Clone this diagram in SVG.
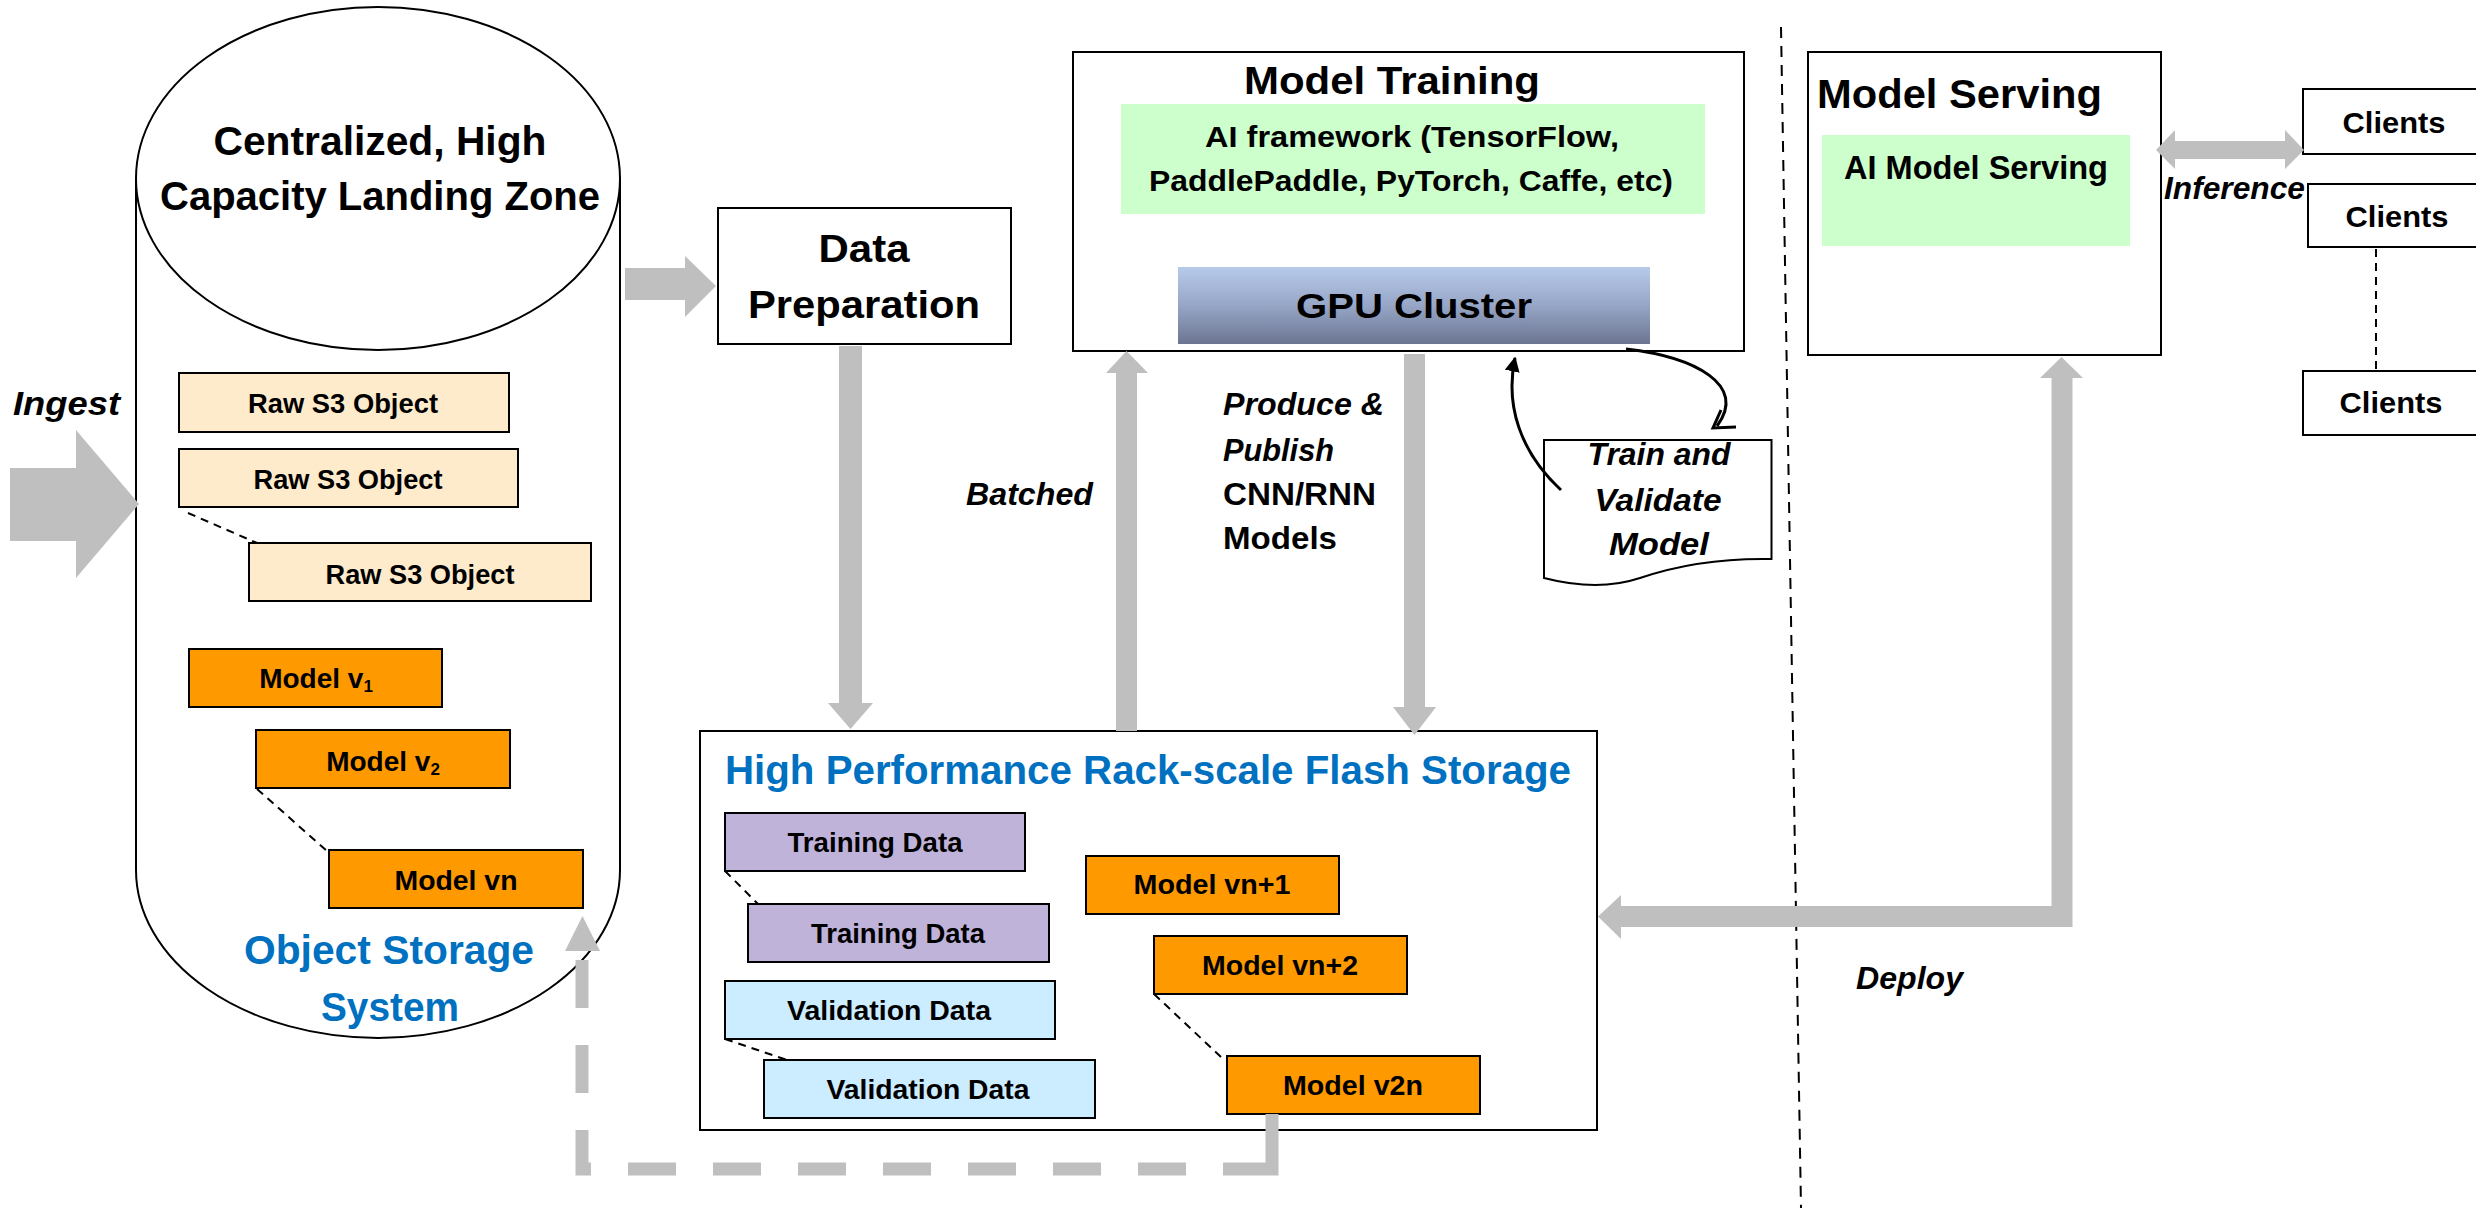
<svg xmlns="http://www.w3.org/2000/svg" width="2476" height="1208" viewBox="0 0 2476 1208">
  <style>
    .t { font-family: "Liberation Sans", Arial, sans-serif; font-weight: bold; fill: #000; }
    .c { text-anchor: middle; }
    .i { font-style: italic; }
    .blue { fill: #0070C0; }
    .box { stroke: #000; stroke-width: 2; }
    .raw { fill: #FDEBCB; }
    .org { fill: #FF9900; }
    .lav { fill: #BFB3D9; }
    .lbl { fill: #CCECFF; }
    .grn { fill: #CCFFCC; }
    .wht { fill: #FFFFFF; }
    .gray { fill: #BFBFBF; }
    .gline { fill: none; stroke: #BFBFBF; stroke-linecap: butt; stroke-linejoin: miter; }
    .dash { fill: none; stroke: #000; stroke-width: 2; stroke-dasharray: 8 6; }
    .sep { fill: none; stroke: #000; stroke-width: 2; stroke-dasharray: 11 8; }
    .curve { fill: none; stroke: #000; stroke-width: 3; }
  </style>
  <defs>
    <linearGradient id="gpuGrad" x1="0" y1="0" x2="0" y2="1">
      <stop offset="0" stop-color="#B7CAEA"/>
      <stop offset="0.5" stop-color="#97A6C6"/>
      <stop offset="1" stop-color="#6B7592"/>
    </linearGradient>
    <marker id="tri" viewBox="0 0 10 10" refX="9" refY="5" markerWidth="5" markerHeight="5" orient="auto" markerUnits="strokeWidth">
      <path d="M0,0 L10,5 L0,10 Z" fill="#000"/>
    </marker>
  </defs>

  <rect x="0" y="0" width="2476" height="1208" fill="#FFFFFF"/>

  <!-- Separator between training and serving -->
  <line class="sep" x1="1781" y1="27" x2="1801" y2="1208"/>

  <!-- Object storage cylinder -->
  <g id="object-storage">
    <path class="box wht" d="M136,178 V870 A242,168 0 0 0 620,870 V178 Z"/>
    <ellipse class="box wht" cx="378" cy="178.5" rx="242" ry="171.5"/>
    <text class="t c" x="380" y="155" font-size="41" textLength="333" lengthAdjust="spacingAndGlyphs">Centralized, High</text>
    <text class="t c" x="380" y="210" font-size="41" textLength="440" lengthAdjust="spacingAndGlyphs">Capacity Landing Zone</text>
    <text class="t c blue" x="389" y="964" font-size="41" textLength="290" lengthAdjust="spacingAndGlyphs">Object Storage</text>
    <text class="t c blue" x="390" y="1021" font-size="41" textLength="138" lengthAdjust="spacingAndGlyphs">System</text>
  </g>

  <g id="raw-s3-1">
    <rect class="box raw" x="179" y="373" width="330" height="59"/>
    <text class="t c" x="343" y="413" font-size="27" textLength="190" lengthAdjust="spacingAndGlyphs">Raw S3 Object</text>
  </g>
  <g id="raw-s3-2">
    <rect class="box raw" x="179" y="449" width="339" height="58"/>
    <text class="t c" x="348" y="489" font-size="27" textLength="189" lengthAdjust="spacingAndGlyphs">Raw S3 Object</text>
  </g>
  <g id="raw-s3-3">
    <rect class="box raw" x="249" y="543" width="342" height="58"/>
    <text class="t c" x="420" y="584" font-size="27" textLength="189" lengthAdjust="spacingAndGlyphs">Raw S3 Object</text>
  </g>

  <g id="model-v1">
    <rect class="box org" x="189" y="649" width="253" height="58"/>
    <text class="t c" x="316" y="688" font-size="28">Model v<tspan font-size="17" dy="4">1</tspan></text>
  </g>
  <g id="model-v2">
    <rect class="box org" x="256" y="730" width="254" height="58"/>
    <text class="t c" x="383" y="771" font-size="28">Model v<tspan font-size="17" dy="4">2</tspan></text>
  </g>
  <g id="model-vn">
    <rect class="box org" x="329" y="850" width="254" height="58"/>
    <text class="t c" x="456" y="890" font-size="28" textLength="123" lengthAdjust="spacingAndGlyphs">Model vn</text>
  </g>

  <!-- Data preparation -->
  <g id="data-preparation">
    <rect class="box wht" x="718" y="208" width="293" height="136"/>
    <text class="t c" x="864" y="262" font-size="39" textLength="91" lengthAdjust="spacingAndGlyphs">Data</text>
    <text class="t c" x="864" y="318" font-size="39" textLength="232" lengthAdjust="spacingAndGlyphs">Preparation</text>
  </g>

  <!-- Model training -->
  <g id="model-training">
    <rect class="box wht" x="1073" y="52" width="671" height="299"/>
    <text class="t c" x="1392" y="94" font-size="39" textLength="296" lengthAdjust="spacingAndGlyphs">Model Training</text>
    <rect class="grn" x="1121" y="104" width="584" height="110"/>
    <text class="t c" x="1412" y="147" font-size="29" textLength="414" lengthAdjust="spacingAndGlyphs">AI framework (TensorFlow,</text>
    <text class="t c" x="1411" y="191" font-size="29" textLength="524" lengthAdjust="spacingAndGlyphs">PaddlePaddle, PyTorch, Caffe, etc)</text>
  </g>
  <g id="gpu-cluster">
    <rect x="1178" y="267" width="472" height="77" fill="url(#gpuGrad)"/>
    <text class="t c" x="1414" y="318" font-size="35" textLength="236" lengthAdjust="spacingAndGlyphs">GPU Cluster</text>
  </g>

  <!-- Train and validate document -->
  <g id="train-validate">
    <path class="wht" stroke="#000" stroke-width="2" d="M1544,440 H1771.5 V559 C1720,558 1675,566 1640,578 C1610,588 1575,586 1544,578 Z"/>
    <text class="t c i" x="1659" y="465" font-size="31" textLength="143" lengthAdjust="spacingAndGlyphs">Train and</text>
    <text class="t c i" x="1658" y="511" font-size="31" textLength="127" lengthAdjust="spacingAndGlyphs">Validate</text>
    <text class="t c i" x="1659" y="555" font-size="31" textLength="100" lengthAdjust="spacingAndGlyphs">Model</text>
  </g>

  <!-- Flash storage -->
  <g id="flash-storage">
    <rect class="box wht" x="700" y="731" width="897" height="399"/>
    <text class="t blue" x="725" y="784" font-size="41" textLength="846" lengthAdjust="spacingAndGlyphs">High Performance Rack-scale Flash Storage</text>
  </g>
  <g id="training-data-1">
    <rect class="box lav" x="725" y="813" width="300" height="58"/>
    <text class="t c" x="875" y="852" font-size="27" textLength="175" lengthAdjust="spacingAndGlyphs">Training Data</text>
  </g>
  <g id="training-data-2">
    <rect class="box lav" x="748" y="904" width="301" height="58"/>
    <text class="t c" x="898" y="943" font-size="27" textLength="174" lengthAdjust="spacingAndGlyphs">Training Data</text>
  </g>
  <g id="validation-data-1">
    <rect class="box lbl" x="725" y="981" width="330" height="58"/>
    <text class="t c" x="889" y="1020" font-size="27" textLength="204" lengthAdjust="spacingAndGlyphs">Validation Data</text>
  </g>
  <g id="validation-data-2">
    <rect class="box lbl" x="764" y="1060" width="331" height="58"/>
    <text class="t c" x="928" y="1099" font-size="27" textLength="203" lengthAdjust="spacingAndGlyphs">Validation Data</text>
  </g>
  <g id="model-vn1">
    <rect class="box org" x="1086" y="856" width="253" height="58"/>
    <text class="t c" x="1212" y="894" font-size="28" textLength="157" lengthAdjust="spacingAndGlyphs">Model vn+1</text>
  </g>
  <g id="model-vn2">
    <rect class="box org" x="1154" y="936" width="253" height="58"/>
    <text class="t c" x="1280" y="975" font-size="28" textLength="156" lengthAdjust="spacingAndGlyphs">Model vn+2</text>
  </g>
  <g id="model-v2n">
    <rect class="box org" x="1227" y="1056" width="253" height="58"/>
    <text class="t c" x="1353" y="1095" font-size="28" textLength="140" lengthAdjust="spacingAndGlyphs">Model v2n</text>
  </g>

  <!-- Model serving -->
  <g id="model-serving">
    <rect class="box wht" x="1808" y="52" width="353" height="303"/>
    <text class="t" x="1817" y="108" font-size="41" textLength="285" lengthAdjust="spacingAndGlyphs">Model Serving</text>
    <rect class="grn" x="1822" y="135" width="308" height="111"/>
    <text class="t c" x="1976" y="179" font-size="33" textLength="264" lengthAdjust="spacingAndGlyphs">AI Model Serving</text>
  </g>

  <!-- Clients -->
  <g id="clients-1">
    <rect class="box wht" x="2303" y="89" width="190" height="65"/>
    <text class="t c" x="2394" y="133" font-size="30" textLength="103" lengthAdjust="spacingAndGlyphs">Clients</text>
  </g>
  <g id="clients-2">
    <rect class="box wht" x="2308" y="184" width="190" height="63"/>
    <text class="t c" x="2397" y="227" font-size="30" textLength="103" lengthAdjust="spacingAndGlyphs">Clients</text>
  </g>
  <g id="clients-3">
    <rect class="box wht" x="2303" y="371" width="190" height="64"/>
    <text class="t c" x="2391" y="413" font-size="30" textLength="103" lengthAdjust="spacingAndGlyphs">Clients</text>
  </g>

  <!-- Connectors -->
  <g id="connectors">
    <!-- Ingest -->
    <polygon class="gray" points="10,468 76,468 76,430 139,504 76,578 76,541 10,541"/>
    <!-- Landing zone to data preparation -->
    <polygon class="gray" points="625,268 685,268 685,256 716,286 685,317 685,300 625,300"/>
    <!-- Data preparation down to flash storage -->
    <polygon class="gray" points="839,346 862,346 862,703 873,703 850.5,729 828,703 839,703"/>
    <!-- Batched, flash storage up to training -->
    <polygon class="gray" points="1116,731 1137,731 1137,373 1148,373 1126.5,351 1106,373 1116,373"/>
    <!-- Produce and publish, training down to flash storage -->
    <polygon class="gray" points="1404,354 1425,354 1425,707 1436,707 1414.5,735 1393,707 1404,707"/>
    <!-- Deploy: serving to flash storage -->
    <path class="gline" stroke-width="21" d="M2062,378 V916.5 H1621"/>
    <polygon class="gray" points="2040,378 2083,378 2061.5,357"/>
    <polygon class="gray" points="1621,895 1621,939 1598,916.5"/>
    <!-- Inference -->
    <polygon class="gray" points="2156,150 2175,130 2175,141 2285,141 2285,130 2304,150 2285,169 2285,159 2175,159 2175,169"/>
    <!-- Archive models back to object storage -->
    <path class="gline" stroke-width="13" stroke-dasharray="104 37 48 37 48 37 48 37 48 37 48 37 48 37 48 37 48 37 48 37 48 37 48 37" d="M1272,1114 V1169 H582 V951"/>
    <polygon class="gray" points="565,951 600,951 582.5,916"/>

    <!-- Train / validate loop -->
    <path class="curve" d="M1626,349 C1695,357 1748,385 1717,426"/>
    <polyline class="curve" points="1721,410 1713,428 1736,427"/>
    <path class="curve" d="M1561,490 C1520,452 1505,405 1515,358" marker-end="url(#tri)"/>

    <!-- Stacked items -->
    <line class="dash" x1="188" y1="513" x2="257" y2="543"/>
    <line class="dash" x1="257" y1="789" x2="327" y2="851"/>
    <line class="dash" x1="725" y1="871" x2="758" y2="904"/>
    <line class="dash" x1="725" y1="1039" x2="787" y2="1060"/>
    <line class="dash" x1="1154" y1="994" x2="1222" y2="1058"/>
    <line class="dash" x1="2376" y1="249" x2="2376" y2="369"/>
  </g>

  <!-- Connector labels -->
  <g id="labels">
    <text class="t i" x="13" y="415" font-size="34" textLength="107" lengthAdjust="spacingAndGlyphs">Ingest</text>
    <text class="t i" x="966" y="505" font-size="31" textLength="127" lengthAdjust="spacingAndGlyphs">Batched</text>
    <text class="t i" x="1223" y="415" font-size="31" textLength="161" lengthAdjust="spacingAndGlyphs">Produce &amp;</text>
    <text class="t i" x="1223" y="461" font-size="31" textLength="111" lengthAdjust="spacingAndGlyphs">Publish</text>
    <text class="t" x="1223" y="505" font-size="31" textLength="153" lengthAdjust="spacingAndGlyphs">CNN/RNN</text>
    <text class="t" x="1223" y="549" font-size="31" textLength="114" lengthAdjust="spacingAndGlyphs">Models</text>
    <text class="t i" x="2164" y="199" font-size="31" textLength="141" lengthAdjust="spacingAndGlyphs">Inference</text>
    <text class="t i" x="1856" y="989" font-size="31" textLength="107" lengthAdjust="spacingAndGlyphs">Deploy</text>
  </g>
</svg>
